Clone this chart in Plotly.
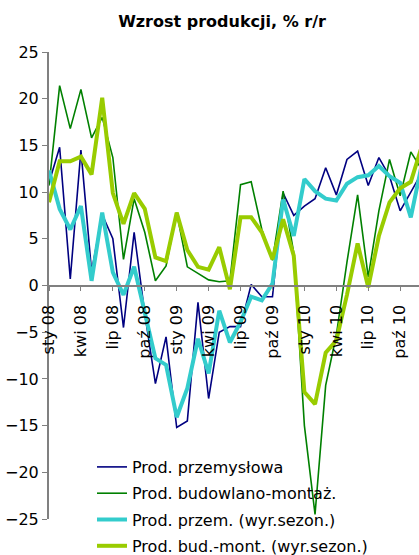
import plotly.graph_objects as go

months = list(range(36))
tick_vals = [0, 3, 6, 9, 12, 15, 18, 21, 24, 27, 30, 33]
tick_text = ["sty 08", "kwi 08", "lip 08", "paź 08", "sty 09", "kwi 09",
             "lip 09", "paź 09", "sty 10", "kwi 10", "lip 10", "paź 10"]

prod_przem = [11.0, 14.8, 0.7, 14.5, 1.5, 7.6, 5.0, -4.5, 5.7, -3.0,
              -10.5, -5.5, -15.2, -14.5, -1.8, -12.1, -5.0, -4.4, -4.4, 0.1,
              -1.2, -1.2, 9.9, 7.5, 8.5, 9.3, 12.6, 9.7, 13.5, 14.4,
              10.7, 13.7, 11.7, 8.0, 10.0, 12.0]
prod_bud = [10.7, 21.4, 16.8, 21.0, 15.8, 18.0, 13.7, 2.8, 9.3, 5.7,
            0.5, 2.1, 7.8, 2.0, 1.3, 0.6, 0.4, 0.5, 10.8, 11.1,
            6.0, 2.7, 10.1, 3.5, -15.0, -24.5, -10.7, -5.3, 2.5, 9.7,
            0.9, 8.0, 13.5, 9.6, 14.3, 12.5]
prod_przem_sa = [12.3, 8.2, 6.0, 8.5, 0.5, 7.8, 1.4, -1.0, 2.0, -3.0,
                 -7.8, -8.5, -14.1, -11.0, -5.7, -9.4, -2.7, -6.1, -3.9, -1.2,
                 -1.6, 0.2, 9.2, 5.3, 11.4, 10.1, 9.3, 9.1, 10.9, 11.6,
                 11.8, 12.8, 11.7, 11.0, 7.3, 12.8]
prod_bud_sa = [8.9, 13.3, 13.3, 13.8, 11.9, 20.1, 9.9, 6.6, 9.9, 8.2,
               3.0, 2.6, 7.8, 3.8, 2.0, 1.7, 4.1, -0.4, 7.3, 7.3,
               5.7, 2.8, 7.1, 3.2, -11.4, -12.7, -7.2, -5.9, -1.0, 4.5,
               -0.2, 5.3, 8.9, 10.4, 11.1, 14.8]

series = [
    ("Prod. przemysłowa", prod_przem, "#000080", 1.6),
    ("Prod. budowlano-montaż.", prod_bud, "#008000", 1.6),
    ("Prod. przem. (wyr.sezon.)", prod_przem_sa, "#33CCCC", 4),
    ("Prod. bud.-mont. (wyr.sezon.)", prod_bud_sa, "#99CC00", 4),
]

fig = go.Figure()
for i, (name, vals, color, w) in enumerate(series):
    fig.add_trace(go.Scatter(
        x=months, y=vals, name=name, mode="lines",
        line=dict(color=color, width=w), legendgroup=f"g{i}",
    ))

FONT = "DejaVu Sans"
fig.update_layout(
    width=419, height=555,
    margin=dict(l=49, r=0, t=52, b=36, autoexpand=False),
    paper_bgcolor="white", plot_bgcolor="white",
    font=dict(family=FONT, size=16, color="black"),
    title=dict(text="<b>Wzrost produkcji, % r/r</b>",
               font=dict(family=FONT, size=16, color="black"),
               x=222 / 419, xref="container", xanchor="center",
               y=1 - 21 / 555, yref="container", yanchor="middle"),
    showlegend=True,
    legend=dict(
        x=43 / 370, xref="paper", xanchor="left",
        y=(519 - 450) / 467, yref="paper", yanchor="top",
        bgcolor="rgba(0,0,0,0)", borderwidth=0,
        font=dict(family=FONT, size=16, color="black"),
        traceorder="grouped", tracegroupgap=2.5,
    ),
    xaxis=dict(
        range=[0, 34.77], tickmode="array", tickvals=tick_vals, ticktext=tick_text,
        tickangle=-90, ticks="outside", ticklen=4, tickcolor="#808080",
        showline=True, linecolor="#808080", linewidth=2,
        showgrid=False, zeroline=False, automargin=False,
        anchor="free", position=0.5,
        ticklabelstandoff=8,
        tickfont=dict(family=FONT, size=16, color="black"),
    ),
    yaxis=dict(
        range=[-25, 25], tickvals=[25, 20, 15, 10, 5, 0, -5, -10, -15, -20, -25],
        ticks="outside", ticklen=5, tickcolor="#808080",
        showline=True, linecolor="#808080", linewidth=2,
        showgrid=False, zeroline=False, automargin=False,
        ticklabelstandoff=0,
        tickfont=dict(family=FONT, size=16, color="black"),
    ),
)

fig.write_html(
    "out.html",
    config={"displayModeBar": False},
    post_script="document.body.style.margin='0';document.body.style.overflow='hidden';",
)
